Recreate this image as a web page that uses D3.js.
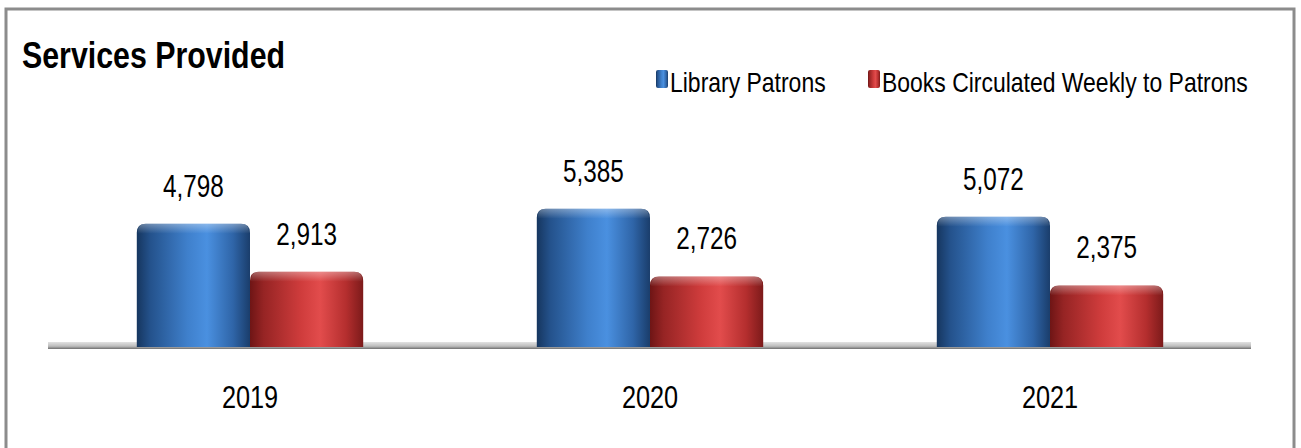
<!DOCTYPE html>
<html>
<head>
<meta charset="utf-8">
<script src="https://cdn.jsdelivr.net/npm/d3@7"></script>
<style>
  body { margin: 0; background: #fff; }
  text { font-family: "Liberation Sans", Arial, sans-serif; fill: #000; }
</style>
</head>
<body>
<div id="chart"></div>
<script>
let years = ["2019", "2020", "2021"];
let seriesNames = ["Library Patrons", "Books Circulated Weekly to Patrons"];
let patrons = [4798, 5385, 5072];
let books = [2913, 2726, 2375];

let svgWidth = 1301;
let svgHeight = 448;
let baseY = 346;

let svg = d3.select("#chart").append("svg")
    .attr("width", svgWidth)
    .attr("height", svgHeight);

let defs = svg.append("defs");

// cylinder-ish gradients
function barGrad(id, stops) {
    let g = defs.append("linearGradient").attr("id", id)
        .attr("x1", "0%").attr("x2", "100%").attr("y1", "0%").attr("y2", "0%");
    stops.forEach(s => g.append("stop").attr("offset", s[0]).attr("stop-color", s[1]));
}
barGrad("blueGrad", [["0%", "#16365f"], ["12%", "#24528c"], ["45%", "#3f80cc"], ["62%", "#4a90e0"], ["85%", "#2f65a8"], ["100%", "#1a3d6b"]]);
barGrad("redGrad", [["0%", "#6e1515"], ["12%", "#962424"], ["45%", "#cf3c3c"], ["62%", "#e24c4c"], ["85%", "#b42e2e"], ["100%", "#7c1a1a"]]);

let topGrad = defs.append("linearGradient").attr("id", "topGrad")
    .attr("x1", "0%").attr("x2", "0%").attr("y1", "0%").attr("y2", "100%");
topGrad.append("stop").attr("offset", "0%").attr("stop-color", "#ffffff").attr("stop-opacity", 0.35);
topGrad.append("stop").attr("offset", "100%").attr("stop-color", "#ffffff").attr("stop-opacity", 0);

let floorGrad = defs.append("linearGradient").attr("id", "floorGrad")
    .attr("x1", "0%").attr("x2", "0%").attr("y1", "0%").attr("y2", "100%");
floorGrad.append("stop").attr("offset", "0%").attr("stop-color", "#e2e2e2");
floorGrad.append("stop").attr("offset", "60%").attr("stop-color", "#bdbdbd");
floorGrad.append("stop").attr("offset", "100%").attr("stop-color", "#6f6f6f");

// narrow text: no condensed font installed, so squeeze horizontally
function place(x, y, sx) {
    return `translate(${x},${y}) scale(${sx},1)`;
}

// frame
svg.append("rect")
    .attr("x", 6).attr("y", 9)
    .attr("width", 1288).attr("height", 470)
    .attr("fill", "none")
    .attr("stroke", "#8c8c8c")
    .attr("stroke-width", 3);

// title
svg.append("text")
    .attr("transform", place(22, 68, 0.82))
    .attr("font-size", "37px")
    .attr("font-weight", "bold")
    .text("Services Provided");

// Scales
let x0 = d3.scaleBand()
    .domain(years)
    .range([50, 1250])
    .paddingInner(0.434)
    .paddingOuter(0.217);

let x1 = d3.scaleBand()
    .domain(seriesNames)
    .range([0, x0.bandwidth()]);

let y = d3.scaleLinear()
    .domain([0, 6000])
    .range([baseY, baseY - 153]);

// floor
svg.append("rect")
    .attr("x", 48).attr("y", 342)
    .attr("width", 1203).attr("height", 7)
    .attr("fill", "url(#floorGrad)");

let rows = years.map((yr, i) => ({ year: yr, values: [patrons[i], books[i]] }));
let grads = ["url(#blueGrad)", "url(#redGrad)"];

function barPath(x, top, w, bottom, r) {
    return `M${x},${bottom} L${x},${top + r} Q${x},${top} ${x + r},${top} L${x + w - r},${top} Q${x + w},${top} ${x + w},${top + r} L${x + w},${bottom} Z`;
}

let groups = svg.selectAll(".grp")
    .data(rows)
    .enter()
    .append("g")
    .attr("class", "grp")
    .attr("transform", d => `translate(${x0(d.year)},0)`);

let bars = groups.selectAll(".bar")
    .data(d => d.values.map((v, j) => ({ name: seriesNames[j], value: v, j: j })))
    .enter()
    .append("g");

bars.append("path")
    .attr("d", d => barPath(x1(d.name), y(d.value), x1.bandwidth(), baseY + 1, 9))
    .attr("fill", d => grads[d.j]);

bars.append("path")
    .attr("d", d => barPath(x1(d.name) + 1, y(d.value), x1.bandwidth() - 2, y(d.value) + 10, 8))
    .attr("fill", "url(#topGrad)");

bars.append("text")
    .attr("transform", d => place(x1(d.name) + x1.bandwidth() / 2, y(d.value) - 27, 0.76))
    .attr("text-anchor", "middle")
    .attr("font-size", "32px")
    .text(d => d3.format(",")(d.value));

// year labels
svg.selectAll(".yr")
    .data(years)
    .enter()
    .append("text")
    .attr("class", "yr")
    .attr("transform", d => place(x0(d) + x0.bandwidth() / 2, 408, 0.79))
    .attr("text-anchor", "middle")
    .attr("font-size", "32px")
    .text(d => d);

// legend
let legendX = [656, 868];
let legend = svg.selectAll(".leg")
    .data(seriesNames)
    .enter()
    .append("g")
    .attr("class", "leg")
    .attr("transform", (d, i) => `translate(${legendX[i]},0)`);

legend.append("rect")
    .attr("x", 0).attr("y", 70)
    .attr("width", 12).attr("height", 18)
    .attr("rx", 2)
    .attr("fill", (d, i) => grads[i]);

legend.append("text")
    .attr("transform", place(14, 92, 0.82))
    .attr("font-size", "28px")
    .text(d => d);
</script>
</body>
</html>
